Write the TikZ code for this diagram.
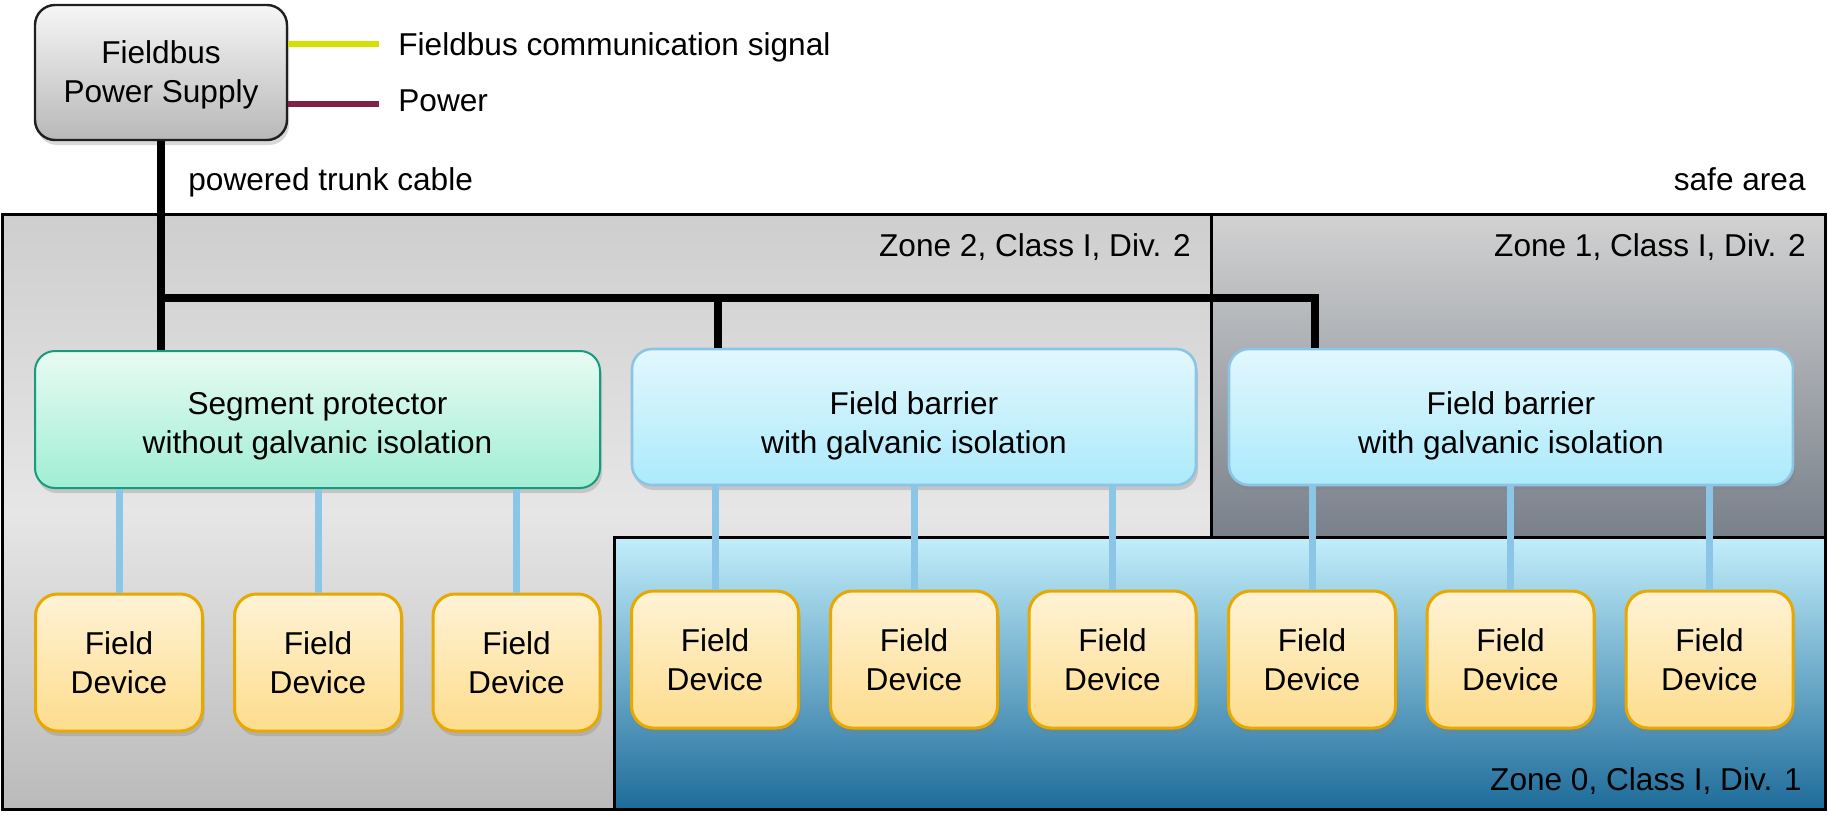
\documentclass[tikz,border=0pt]{standalone}
\usepackage{fontspec}
\setmainfont{Liberation Sans}
\usetikzlibrary{shadows}

\definecolor{pstop}{RGB}{246,246,246}
\definecolor{psbot}{RGB}{184,184,184}
\definecolor{prottop}{RGB}{232,251,243}
\definecolor{protbot}{RGB}{160,238,212}
\definecolor{protline}{RGB}{22,155,125}
\definecolor{fbtop}{RGB}{226,247,253}
\definecolor{fbbot}{RGB}{172,234,251}
\definecolor{fbline}{RGB}{140,196,228}
\definecolor{devtop}{RGB}{255,243,214}
\definecolor{devbot}{RGB}{253,220,140}
\definecolor{devline}{RGB}{232,168,0}
\definecolor{ztwotop}{RGB}{206,206,206}
\definecolor{ztwomid}{RGB}{230,230,230}
\definecolor{ztwobot}{RGB}{186,186,186}
\definecolor{zonetop}{RGB}{210,210,210}
\definecolor{zonebot}{RGB}{120,128,138}
\definecolor{zzerotop}{RGB}{194,238,251}
\definecolor{zzerobot}{RGB}{30,108,154}
\definecolor{sigcol}{RGB}{212,224,0}
\definecolor{pwrcol}{RGB}{128,34,72}
\definecolor{linkcol}{RGB}{140,198,230}

\tikzset{
  boxshadow/.style={drop shadow={shadow xshift=1pt,shadow yshift=-2.5pt,opacity=0.3}},
  psbox/.style={draw=black!88,line width=1.2pt,rounded corners=10pt,top color=pstop,bottom color=psbot,
    minimum width=126pt,minimum height=67.5pt,align=center,text height=33.2pt,boxshadow},
  protbox/.style={draw=protline,line width=1pt,rounded corners=10pt,top color=prottop,bottom color=protbot,
    minimum width=282.5pt,minimum height=68.5pt,align=center,text height=37.3pt,boxshadow},
  fbbox/.style={draw=fbline,line width=1.3pt,rounded corners=10pt,top color=fbtop,bottom color=fbbot,
    minimum width=282pt,minimum height=68pt,align=center,text height=40.2pt,boxshadow},
  devbox/.style={draw=devline,line width=1.5pt,rounded corners=11pt,top color=devtop,bottom color=devbot,
    minimum width=83.5pt,minimum height=68.5pt,align=center,boxshadow},
  zoneline/.style={draw=black,line width=1.5pt},
  txt/.style={inner sep=0pt},
  trunk/.style={line width=4pt},
  link/.style={draw=linkcol,line width=3.5pt},
  sigline/.style={draw=sigcol,line width=3pt},
  pwrline/.style={draw=pwrcol,line width=3pt}
}

\begin{document}
\begin{tikzpicture}[x=0.5pt,y=-0.5pt,every node/.style={font=\fontsize{15.8}{19.5}\selectfont}]
\useasboundingbox (0,0) rectangle (1829,814);

% areas
\draw[zoneline,top color=ztwotop,bottom color=ztwobot,middle color=ztwomid] (2.5,214) rectangle (1825,809);
\draw[zoneline,top color=zonetop,bottom color=zonebot] (1211,214) rectangle (1825,537);
\draw[zoneline,top color=zzerotop,bottom color=zzerobot] (614,537) rectangle (1825,809);

\node[txt,anchor=base east] at (1806,190) (safe) {safe area};
\node[txt,anchor=base east] at (1191,256) (ztwo) {Zone 2, Class I, Div. 2};
\node[txt,anchor=base east] at (1806,256) (zone) {Zone 1, Class I, Div. 2};
\node[txt,anchor=base east] at (1802,790) (zzero) {Zone 0, Class I, Div. 1};

% power supply and legend
\node[psbox] at (161,72.5) (ps) {Fieldbus\\Power Supply};
\node[txt,anchor=base west] at (398,55) (sigtxt) {Fieldbus communication signal};
\node[txt,anchor=base west] at (398,111) (pwrtxt) {Power};
\node[txt,anchor=base west] at (188,190) (trunktxt) {powered trunk cable};

% segment protector and field barriers
\node[protbox] at (317.5,419.5) (prot) {Segment protector\\without galvanic isolation};
\node[fbbox] at (914,417) (fb1) {Field barrier\\with galvanic isolation};
\node[fbbox] at (1511,417) (fb2) {Field barrier\\with galvanic isolation};

% field devices
\node[devbox] at (119,662.5) (fd1) {Field\\Device};
\node[devbox] at (318,662.5) (fd2) {Field\\Device};
\node[devbox] at (516.5,662.5) (fd3) {Field\\Device};
\node[devbox] at (715,659.5) (fd4) {Field\\Device};
\node[devbox] at (914,659.5) (fd5) {Field\\Device};
\node[devbox] at (1112.5,659.5) (fd6) {Field\\Device};
\node[devbox] at (1312,659.5) (fd7) {Field\\Device};
\node[devbox] at (1510.5,659.5) (fd8) {Field\\Device};
\node[devbox] at (1709.5,659.5) (fd9) {Field\\Device};

% legend lines
\coordinate (sigend) at (379,44);
\coordinate (pwrend) at (379,104);
\draw[sigline] (ps.east |- sigend) -- (sigend);
\draw[pwrline] (ps.east |- pwrend) -- (pwrend);

% trunk
\coordinate (bus0) at (161,297.5);
\coordinate (bus1) at (718,297.5);
\coordinate (bus2) at (1315,297.5);
\draw[trunk] (ps.south) -- (ps.south |- prot.north);
\draw[trunk] (bus0) -- (bus2) -- (bus2 |- fb2.north);
\draw[trunk] (bus1) -- (bus1 |- fb1.north);

% spurs
\draw[link] (prot.south -| fd1) -- (fd1.north); \draw[link] (prot.south -| fd2) -- (fd2.north);
\draw[link] (prot.south -| fd3) -- (fd3.north);
\draw[link] (fb1.south -| fd4) -- (fd4.north); \draw[link] (fb1.south -| fd5) -- (fd5.north);
\draw[link] (fb1.south -| fd6) -- (fd6.north);
\draw[link] (fb2.south -| fd7) -- (fd7.north); \draw[link] (fb2.south -| fd8) -- (fd8.north);
\draw[link] (fb2.south -| fd9) -- (fd9.north);

\end{tikzpicture}
\end{document}
